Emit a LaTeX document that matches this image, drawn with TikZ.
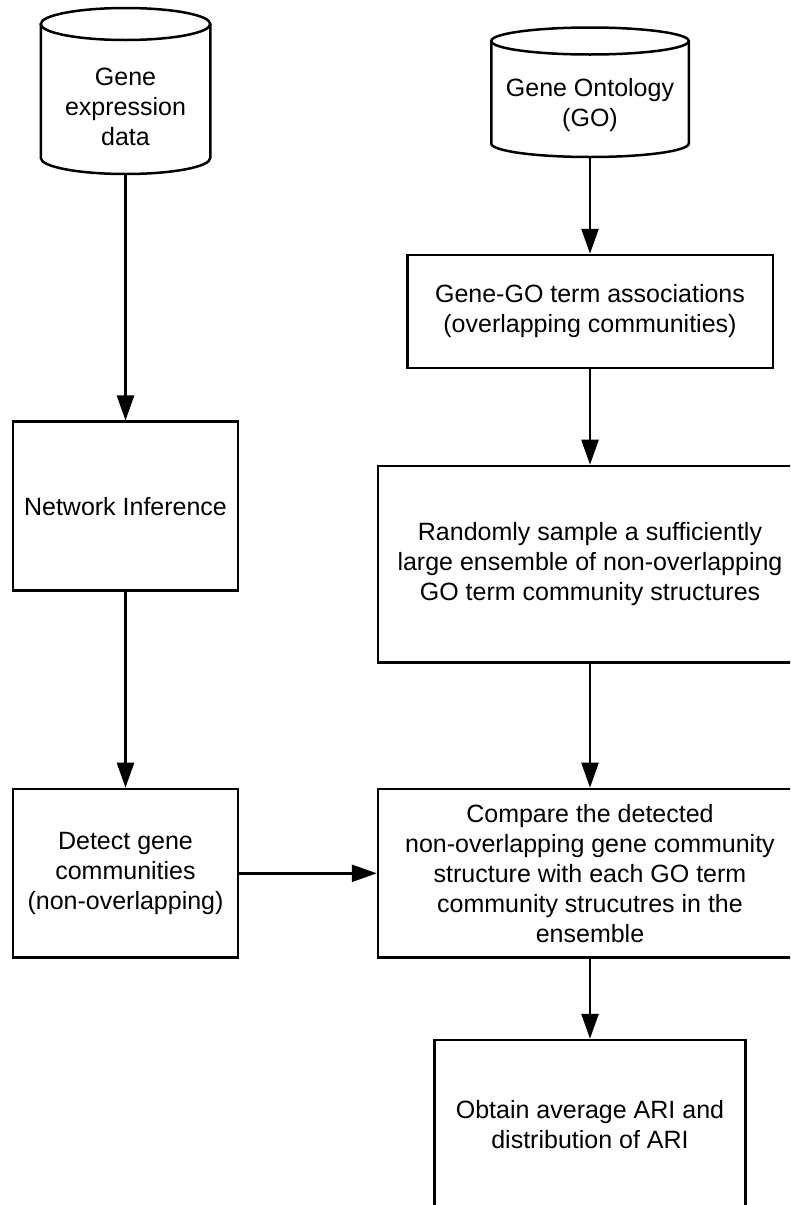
\documentclass[tikz,border=0pt]{standalone}
\usepackage{fontspec}
\setmainfont{Liberation Sans}
\usetikzlibrary{arrows.meta,positioning}
\begin{document}
\begin{tikzpicture}[x=1pt,y=-1pt,
  line/.style={line width=2.5pt,draw=black},
  txt/.style={align=center,font=\fontsize{25pt}{30pt}\selectfont,inner sep=0pt},
  stepbox/.style={line,rectangle,align=center,font=\fontsize{25pt}{30pt}\selectfont,inner sep=0pt},
  cylbox/.style={rectangle,draw=none,inner sep=0pt,outer sep=0pt},
  arr/.style={line width=2.5pt,-{Triangle[length=25pt,width=17pt]}}]
\useasboundingbox (0,0) rectangle (790,1205);
\fill[white] (0,0) rectangle (790,1205);
\clip (0,0) rectangle (790,1205);

% cylinder 1: Gene expression data
\node[cylbox,minimum width=169.5pt,minimum height=166pt] (cyl1) at (125.5,91) {};
\draw[line] (125.5,24) ellipse[x radius=84.75pt,y radius=16pt];
\draw[line] (40.75,24) -- (40.75,158) arc[start angle=180,end angle=360,x radius=84.75pt,y radius=16pt] -- (210.25,24);
\node[txt] (cyl1t) at (125.5,107) {Gene\\expression\\data};

% cylinder 2: Gene Ontology
\node[cylbox,minimum width=197.5pt,minimum height=130pt] (cyl2) at (590,92) {};
\draw[line] (590,41) ellipse[x radius=98.75pt,y radius=13.5pt];
\draw[line] (491.25,41) -- (491.25,143.5) arc[start angle=180,end angle=360,x radius=98.75pt,y radius=13.5pt] -- (688.75,41);
\node[txt] (cyl2t) at (590,105) {Gene Ontology\\(GO)};

% boxes
\node[stepbox,minimum width=365.5pt,minimum height=113pt] (gogo) at (590,311.5) {Gene-GO term associations\\(overlapping communities)};
\node[stepbox,minimum width=225.4pt,minimum height=169pt] (ni) at (125.5,506.2) {Network Inference};
\node[stepbox,minimum width=424pt,minimum height=196.7pt] (rand) at (590,564.3) {Randomly sample a sufficiently\\large ensemble of non-overlapping\\GO term community structures};
\node[stepbox,minimum width=225.4pt,minimum height=168.7pt] (det) at (125.5,873.3) {Detect gene\\communities\\(non-overlapping)};
\node[stepbox,minimum width=424pt,minimum height=168.7pt] (comp) at (590,873.3) {Compare the detected\\non-overlapping gene community\\structure with each GO term\\community strucutres in the\\ensemble};
\node[stepbox,minimum width=310.6pt,minimum height=170pt] (obt) at (590,1125) {Obtain average ARI and\\distribution of ARI};

% connectors
\draw[arr] (cyl1.south) -- (ni.north);
\draw[arr] (ni.south) -- (det.north);
\draw[arr] (det.east) -- (comp.west);
\draw[arr] (cyl2.south) -- (gogo.north);
\draw[arr] (gogo.south) -- (rand.north);
\draw[arr] (rand.south) -- (comp.north);
\draw[arr] (comp.south) -- (obt.north);
\end{tikzpicture}
\end{document}
